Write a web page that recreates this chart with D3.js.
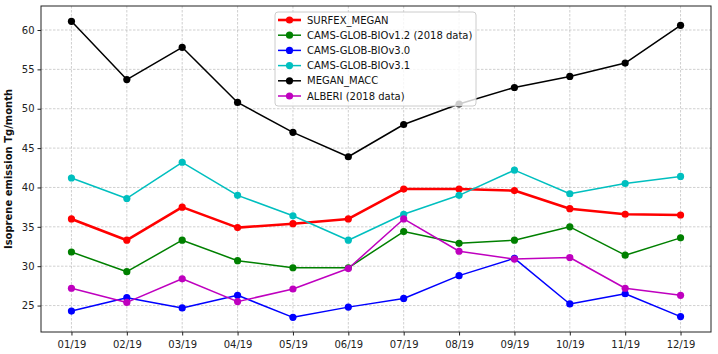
<!DOCTYPE html>
<html>
<head>
<meta charset="utf-8">
<script src="https://cdn.jsdelivr.net/npm/d3@7"></script>
<style>
  body { margin: 0; background: white; }
  svg { display: block; font-family: "DejaVu Sans", sans-serif; }
</style>
</head>
<body>
<svg id="chart"></svg>
<script>
var months = ["01/19","02/19","03/19","04/19","05/19","06/19","07/19","08/19","09/19","10/19","11/19","12/19"];

var surfexMegan = [36.0, 33.3, 37.5, 34.9, 35.4, 36.0, 39.8, 39.8, 39.6, 37.3, 36.6, 36.5];
var camsV12     = [31.8, 29.3, 33.3, 30.7, 29.8, 29.8, 34.4, 32.9, 33.3, 35.0, 31.4, 33.6];
var camsV30     = [24.3, 26.0, 24.7, 26.3, 23.5, 24.8, 25.9, 28.8, 31.0, 25.2, 26.5, 23.6];
var camsV31     = [41.2, 38.6, 43.2, 39.0, 36.4, 33.3, 36.6, 39.0, 42.2, 39.2, 40.5, 41.4];
var meganMacc   = [61.1, 53.7, 57.8, 50.8, 47.0, 43.9, 48.0, 50.6, 52.7, 54.1, 55.8, 60.6];
var alberi      = [27.2, 25.4, 28.4, 25.5, 27.1, 29.7, 36.0, 31.9, 30.9, 31.1, 27.2, 26.3];

var yTicks = [25, 30, 35, 40, 45, 50, 55, 60];

var series = [
  {name: "SURFEX_MEGAN", values: surfexMegan, color: "#ff0000", lw: 2.6},
  {name: "CAMS-GLOB-BIOv1.2 (2018 data)", values: camsV12, color: "#008000", lw: 1.5},
  {name: "CAMS-GLOB-BIOv3.0", values: camsV30, color: "#0000ff", lw: 1.5},
  {name: "CAMS-GLOB-BIOv3.1", values: camsV31, color: "#00bfbf", lw: 1.5},
  {name: "MEGAN_MACC", values: meganMacc, color: "#000000", lw: 1.5},
  {name: "ALBERI (2018 data)", values: alberi, color: "#bf00bf", lw: 1.5}
];

var W = 718, H = 354;
var margin = {top: 6, right: 7, bottom: 22, left: 41},
    width = W - margin.left - margin.right,
    height = H - margin.top - margin.bottom;

var svg = d3.select("#chart").attr("width", W).attr("height", H);

var x = d3.scaleLinear().domain([-0.55, months.length - 1 + 0.55]).range([0, width]);
var y = d3.scaleLinear().domain([21.64, 63.05]).range([height, 0]);

var g = svg.append("g")
  .attr("transform", "translate(" + margin.left + "," + margin.top + ")");

// grid
g.append("g").selectAll("line").data(d3.range(months.length)).enter().append("line")
  .attr("x1", d => x(d)).attr("x2", d => x(d))
  .attr("y1", 0).attr("y2", height)
  .attr("stroke", "#b0b0b0").attr("stroke-width", 0.6).attr("stroke-dasharray", "2.5,1.5");
g.append("g").selectAll("line").data(yTicks).enter().append("line")
  .attr("x1", 0).attr("x2", width)
  .attr("y1", d => y(d)).attr("y2", d => y(d))
  .attr("stroke", "#b0b0b0").attr("stroke-width", 0.6).attr("stroke-dasharray", "2.5,1.5");

// axes
var xAxis = g.append("g")
  .attr("transform", "translate(0," + height + ")")
  .call(d3.axisBottom(x).tickValues(d3.range(months.length)).tickFormat(i => months[i]).tickSizeOuter(0).tickSize(3.5));
var yAxis = g.append("g")
  .call(d3.axisLeft(y).tickValues(yTicks).tickSizeOuter(0).tickSize(3.5));
[xAxis, yAxis].forEach(function(a) {
  a.select(".domain").remove();
  a.selectAll("text").attr("font-size", "10px").attr("font-family", "DejaVu Sans, sans-serif").attr("fill", "#222");
  a.selectAll("line").attr("stroke", "#222");
});
xAxis.selectAll("text").attr("dy", "0.95em");

// frame
g.append("rect").attr("width", width).attr("height", height)
  .attr("fill", "none").attr("stroke", "#222").attr("stroke-width", 1);

// lines
var line = d3.line().x((d, i) => x(i)).y(d => y(d));
series.forEach(function(s) {
  var sg = g.append("g");
  sg.append("path").datum(s.values)
    .attr("d", line).attr("fill", "none")
    .attr("stroke", s.color).attr("stroke-width", s.lw).attr("stroke-linejoin", "round");
  sg.selectAll("circle").data(s.values).enter().append("circle")
    .attr("cx", (d, i) => x(i)).attr("cy", d => y(d)).attr("r", 3.6)
    .attr("fill", s.color);
});

// y label
svg.append("text")
  .attr("transform", "translate(12," + (margin.top + height / 2) + ") rotate(-90)")
  .attr("text-anchor", "middle")
  .attr("font-size", "10px").attr("font-weight", "bold").attr("fill", "#111")
  .text("Isoprene emission Tg/month");

// legend
var lg = svg.append("g").attr("transform", "translate(275,12)");
lg.append("rect").attr("width", 201).attr("height", 94).attr("rx", 3)
  .attr("fill", "white").attr("fill-opacity", 0.8)
  .attr("stroke", "#cccccc").attr("stroke-width", 1);
series.forEach(function(s, i) {
  var row = lg.append("g").attr("transform", "translate(0," + (8 + i * 15.2) + ")");
  row.append("line").attr("x1", 3).attr("x2", 26).attr("y1", 0).attr("y2", 0)
    .attr("stroke", s.color).attr("stroke-width", s.lw);
  row.append("circle").attr("cx", 14.5).attr("cy", 0).attr("r", 3.6).attr("fill", s.color);
  row.append("text").attr("x", 32).attr("y", 0).attr("dy", "0.35em")
    .attr("font-size", "10px").attr("fill", "#111").text(s.name);
});
</script>
</body>
</html>
